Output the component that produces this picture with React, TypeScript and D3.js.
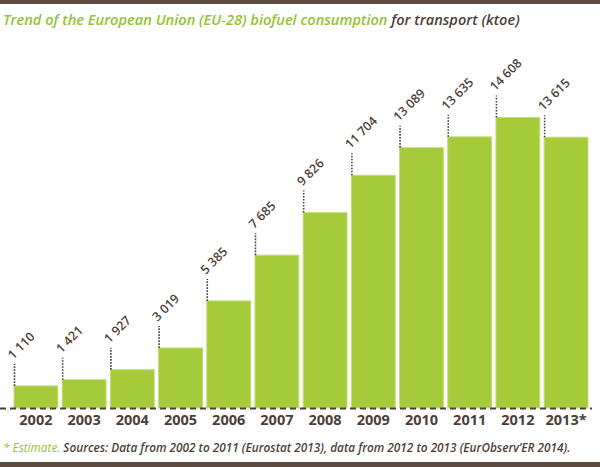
import React from "react";
import * as d3 from "d3";

const years = ["2002", "2003", "2004", "2005", "2006", "2007", "2008", "2009", "2010", "2011", "2012", "2013*"];
const values = [1110, 1421, 1927, 3019, 5385, 7685, 9826, 11704, 13089, 13635, 14608, 13615];
const valueLabels = ["1 110", "1 421", "1 927", "3 019", "5 385", "7 685", "9 826", "11 704", "13 089", "13 635", "14 608", "13 615"];

const W = 600;
const H = 467;
const BROWN = "#4e3f36";
const GREEN = "#a5cb3b";
const TITLE_GREEN = "#93c431";

export default function App() {
  const x = d3.scaleBand<string>().domain(years).range([14, 588]).paddingInner(0.09).paddingOuter(0);
  const y = d3.scaleLinear().domain([0, 14608]).range([408, 117.5]);
  const bw = x.bandwidth();

  return (
    <svg width={W} height={H} style={{ position: "absolute", left: 0, top: 0, background: "#fff" }}>
      <defs>
        {values.map((v, i) => {
          const tx = (x(years[i]) as number) - 1;
          const ty = y(v) - 26;
          return <path key={"p" + i} id={`lblpath${i}`} d={`M${tx},${ty}L${tx + 80},${ty - 80}`} fill="none" />;
        })}
      </defs>
      <rect x={0} y={0} width={W} height={H} fill="#fff" />
      <rect x={0} y={0} width={W} height={4} fill="#5b4b40" />
      <rect x={0} y={462} width={W} height={5} fill="#5b4b40" />
      <text x={3} y={25} fontFamily="'Open Sans', sans-serif" fontStyle="italic" fontWeight={600} fontSize={14.6}>
        <tspan fill={TITLE_GREEN}>Trend of the European Union (EU-28) biofuel consumption</tspan>
        <tspan fill={BROWN}> for transport (ktoe)</tspan>
      </text>
      {values.map((v, i) => {
        const x0 = x(years[i]) as number;
        const yt = y(v);
        return (
          <g key={years[i]}>
            <rect x={x0} y={yt} width={bw} height={y(0) - yt} fill={GREEN} stroke="#c3dd7c" strokeWidth={1} />
            <line x1={x0 + 0.5} x2={x0 + 0.5} y1={yt} y2={yt - 22} stroke={BROWN} strokeWidth={1.6} strokeDasharray="1.6,1.4" />
            <text fontFamily="'Open Sans', sans-serif" fontWeight={600} fontSize={12.5} fill={BROWN}>
              <textPath href={`#lblpath${i}`}>{valueLabels[i]}</textPath>
            </text>
            <text
              x={x0 + bw / 2}
              y={425}
              textAnchor="middle"
              fontFamily="'Open Sans', sans-serif"
              fontWeight={700}
              fontSize={14.5}
              fill={BROWN}
            >
              {years[i]}
            </text>
          </g>
        );
      })}
      <line x1={0} x2={592} y1={408.5} y2={408.5} stroke={BROWN} strokeWidth={2} strokeDasharray="6,4" />
      <text x={3} y={452} fontFamily="'Open Sans', sans-serif" fontStyle="italic" fontSize={11.8}>
        <tspan fill={TITLE_GREEN}>* Estimate. </tspan>
        <tspan fill={BROWN} fontWeight={600}>Sources: Data from 2002 to 2011 (Eurostat 2013), data from 2012 to 2013 (EurObserv’ER 2014).</tspan>
      </text>
    </svg>
  );
}
